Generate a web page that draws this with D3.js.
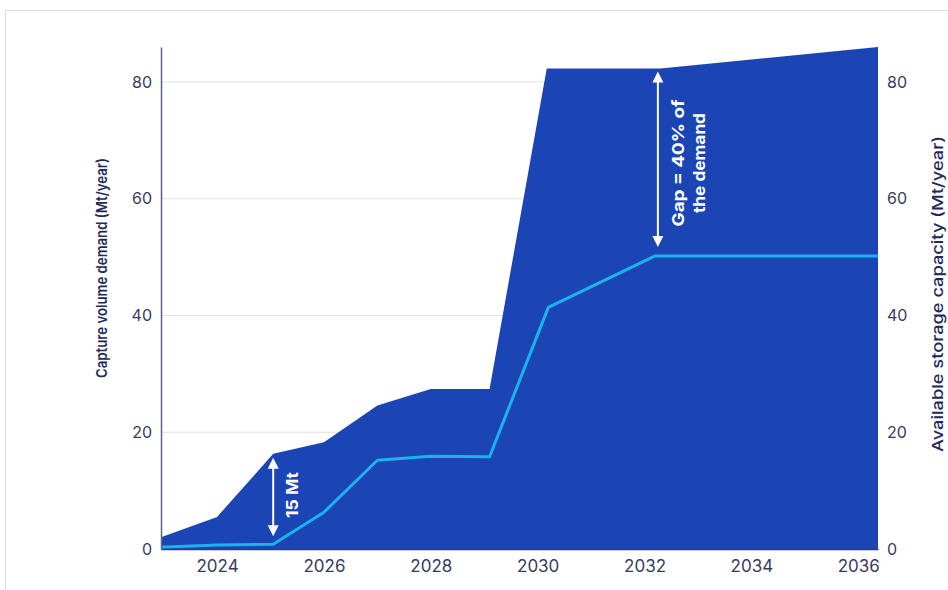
<!DOCTYPE html>
<html>
<head>
<meta charset="utf-8">
<script src="https://cdn.jsdelivr.net/npm/d3@7"></script>
<style>
  body { margin: 0; background: #fff; }
  svg { display: block; font-family: Inter, "Open Sans", Arial, sans-serif; }
</style>
</head>
<body>
<div id="chart"></div>
<script>
// demand (area) and storage (line)
const demandYears = [2022.95, 2024, 2025.05, 2026, 2027, 2028, 2029.1, 2030.17, 2032.3, 2036.37];
const demandValues = [2, 5.5, 16.3, 18.3, 24.6, 27.4, 27.4, 82.3, 82.3, 86];

const storageYears = [2022.95, 2024, 2025.05, 2026, 2027, 2028, 2029.1, 2030.2, 2032.2, 2036.37];
const storageValues = [0.3, 0.7, 0.8, 6.3, 15.2, 15.9, 15.8, 41.4, 50.2, 50.2];

const xTicks = [2024, 2026, 2028, 2030, 2032, 2034, 2036];
const yTicks = [0, 20, 40, 60, 80];

const width = 948;
const height = 590;
const margin = { top: 47, right: 70, bottom: 41, left: 161 };

const demand = demandYears.map((yr, i) => ({ year: yr, value: demandValues[i] }));
const storage = storageYears.map((yr, i) => ({ year: yr, value: storageValues[i] }));

const x = d3.scaleLinear()
    .domain([2022.95, 2036.37])
    .range([margin.left, width - margin.right]);

const y = d3.scaleLinear()
    .domain([0, 86])
    .range([height - margin.bottom, margin.top]);

const svg = d3.select('#chart')
    .append('svg')
    .attr('width', width)
    .attr('height', height);

// faint frame of the original picture
svg.append('rect')
    .attr('x', 5.5).attr('y', 10.5)
    .attr('width', 1000).attr('height', 1000)
    .attr('fill', 'none')
    .attr('stroke', '#dcdcdc');

// gridlines
svg.append('g')
    .selectAll('line')
    .data(yTicks.filter(d => d > 0))
    .join('line')
    .attr('x1', margin.left)
    .attr('x2', width - margin.right)
    .attr('y1', d => y(d))
    .attr('y2', d => y(d))
    .attr('stroke', '#e2e2e6')
    .attr('stroke-width', 1);

// demand area
const area = d3.area()
    .x(d => x(d.year))
    .y0(y(0))
    .y1(d => y(d.value));

svg.append('path')
    .datum(demand)
    .attr('fill', '#1b44b4')
    .attr('d', area);

// storage line
const line = d3.line()
    .x(d => x(d.year))
    .y(d => y(d.value));

svg.append('path')
    .datum(storage)
    .attr('fill', 'none')
    .attr('stroke', '#1cb2ec')
    .attr('stroke-width', 3)
    .attr('stroke-linejoin', 'round')
    .attr('d', line);

// left axis
const yAxisL = svg.append('g')
    .attr('transform', `translate(${margin.left}, 0)`)
    .call(d3.axisLeft(y).tickValues(yTicks).tickSize(0).tickPadding(9));
yAxisL.select('.domain').attr('stroke', '#5d6385').attr('stroke-width', 1.5);

// right axis
const yAxisR = svg.append('g')
    .attr('transform', `translate(${width - margin.right}, 0)`)
    .call(d3.axisRight(y).tickValues(yTicks).tickSize(0).tickPadding(9));
yAxisR.select('.domain').remove();

// bottom axis
const xAxis = svg.append('g')
    .attr('transform', `translate(0, ${height - margin.bottom})`)
    .call(d3.axisBottom(x).tickValues(xTicks).tickFormat(d3.format('d')).tickSize(0).tickPadding(11));
xAxis.select('.domain').attr('stroke', '#2b3a86').attr('stroke-width', 1.5);

svg.selectAll('.tick text')
    .attr('fill', '#363b60')
    .attr('font-size', '16px')
    .attr('font-family', 'Inter, "Open Sans", Arial, sans-serif');
xAxis.selectAll('.tick text').attr('font-size', '17px');

// axis titles (the picture is a bit stretched vertically, so lengths are fixed)
svg.append('text')
    .attr('transform', 'rotate(-90)')
    .attr('x', -268)
    .attr('y', 107)
    .attr('text-anchor', 'middle')
    .attr('fill', '#23285a')
    .attr('font-size', '15px')
    .attr('font-weight', 600)
    .attr('textLength', 220)
    .attr('lengthAdjust', 'spacingAndGlyphs')
    .text('Capture volume demand (Mt/year)');

svg.append('text')
    .attr('transform', 'rotate(-90)')
    .attr('x', -294)
    .attr('y', 943)
    .attr('text-anchor', 'middle')
    .attr('fill', '#23285a')
    .attr('font-size', '15px')
    .attr('font-weight', 500)
    .attr('textLength', 316)
    .attr('lengthAdjust', 'spacingAndGlyphs')
    .text('Available storage capacity (Mt/year)');

// double arrows
function doubleArrow(xPos, yTop, yBottom) {
    const g = svg.append('g');
    g.append('line')
        .attr('x1', xPos).attr('x2', xPos)
        .attr('y1', yTop + 8).attr('y2', yBottom - 8)
        .attr('stroke', '#fff')
        .attr('stroke-width', 2);
    g.append('path')
        .attr('d', `M${xPos},${yTop} L${xPos - 5.5},${yTop + 11} L${xPos + 5.5},${yTop + 11} Z`)
        .attr('fill', '#fff');
    g.append('path')
        .attr('d', `M${xPos},${yBottom} L${xPos - 5.5},${yBottom - 11} L${xPos + 5.5},${yBottom - 11} Z`)
        .attr('fill', '#fff');
}

doubleArrow(x(2025.05), y(16.3) + 4, y(0.8) - 8);
doubleArrow(x(2032.25), y(82.3) + 3, y(50.2) - 9);

svg.append('text')
    .attr('transform', `translate(${x(2025.05) + 25}, 495) rotate(-90)`)
    .attr('text-anchor', 'middle')
    .attr('fill', '#fff')
    .attr('font-size', '16px')
    .attr('font-weight', 700)
    .attr('textLength', 46)
    .attr('lengthAdjust', 'spacingAndGlyphs')
    .text('15 Mt');

const gapText = svg.append('text')
    .attr('transform', `translate(${x(2032.25) + 26}, 163) rotate(-90)`)
    .attr('text-anchor', 'middle')
    .attr('fill', '#fff')
    .attr('font-size', '16px')
    .attr('font-weight', 700);
gapText.append('tspan').attr('x', 0).attr('dy', 0)
    .attr('textLength', 127).attr('lengthAdjust', 'spacingAndGlyphs')
    .text('Gap = 40% of');
gapText.append('tspan').attr('x', 0).attr('dy', 21)
    .attr('textLength', 100).attr('lengthAdjust', 'spacingAndGlyphs')
    .text('the demand');
</script>
</body>
</html>
